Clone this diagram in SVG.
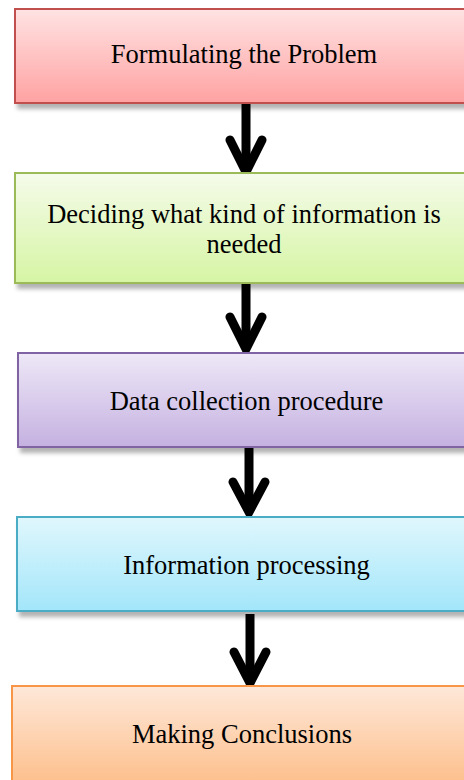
<svg xmlns="http://www.w3.org/2000/svg" width="464" height="780" viewBox="0 0 464 780">
<defs>
<style>
.box{stroke-width:2}
.lbl{font-family:"Liberation Serif","Times New Roman",serif;font-size:26.5px;fill:#000;text-anchor:middle}
.shaft{stroke:#000;stroke-width:9;fill:none}
.head{stroke:#000;stroke-width:9;fill:none;stroke-linecap:round;stroke-linejoin:miter;stroke-miterlimit:10}
</style>
<filter id="sh" x="-10%" y="-20%" width="130%" height="150%">
<feDropShadow dx="3" dy="5" stdDeviation="2" flood-color="#000" flood-opacity="0.3"/>
</filter>
<linearGradient id="g1" x1="0" y1="0" x2="0" y2="1"><stop offset="0" stop-color="#ffe3e3"/><stop offset="1" stop-color="#ffa2a2"/></linearGradient>
<linearGradient id="g2" x1="0" y1="0" x2="0" y2="1"><stop offset="0" stop-color="#f5fbea"/><stop offset="1" stop-color="#d6f5a4"/></linearGradient>
<linearGradient id="g3" x1="0" y1="0" x2="0" y2="1"><stop offset="0" stop-color="#eee8f7"/><stop offset="1" stop-color="#c5b1e1"/></linearGradient>
<linearGradient id="g4" x1="0" y1="0" x2="0" y2="1"><stop offset="0" stop-color="#e0f7fd"/><stop offset="1" stop-color="#a3e6fa"/></linearGradient>
<linearGradient id="g5" x1="0" y1="0" x2="0" y2="1"><stop offset="0" stop-color="#fee8d9"/><stop offset="1" stop-color="#fdba82"/></linearGradient>
</defs>
<rect width="464" height="780" fill="#fff"/>
<g id="connectors">
<line class="shaft" x1="246" y1="103" x2="246" y2="168"/>
<polyline class="head" points="230,140 246,172 262,140"/>
<line class="shaft" x1="246" y1="283" x2="246" y2="349"/>
<polyline class="head" points="230,317 246,349 262,317"/>
<line class="shaft" x1="249" y1="447" x2="249" y2="510"/>
<polyline class="head" points="233,482 249,512 265,482"/>
<line class="shaft" x1="250" y1="614" x2="250" y2="681"/>
<polyline class="head" points="234,652 250,683 266,652"/>
</g>
<g id="node1">
<rect class="box" x="15" y="9" width="470" height="94" fill="url(#g1)" stroke="#c0504d" filter="url(#sh)"/>
<text class="lbl" x="244" y="63">Formulating the Problem</text>
</g>
<g id="node2">
<rect class="box" x="15" y="173" width="470" height="110" fill="url(#g2)" stroke="#9bbb59" filter="url(#sh)"/>
<text class="lbl" x="244" y="223">Deciding what kind of information is</text>
<text class="lbl" x="244" y="253">needed</text>
</g>
<g id="node3">
<rect class="box" x="18" y="353" width="470" height="94" fill="url(#g3)" stroke="#8064a2" filter="url(#sh)"/>
<text class="lbl" x="246.5" y="410">Data collection procedure</text>
</g>
<g id="node4">
<rect class="box" x="17" y="517" width="470" height="94" fill="url(#g4)" stroke="#4bacc6" filter="url(#sh)"/>
<text class="lbl" x="246.5" y="574">Information processing</text>
</g>
<g id="node5">
<rect class="box" x="12" y="686" width="470" height="110" fill="url(#g5)" stroke="#f79646"/>
<text class="lbl" x="242" y="743">Making Conclusions</text>
</g>
</svg>
